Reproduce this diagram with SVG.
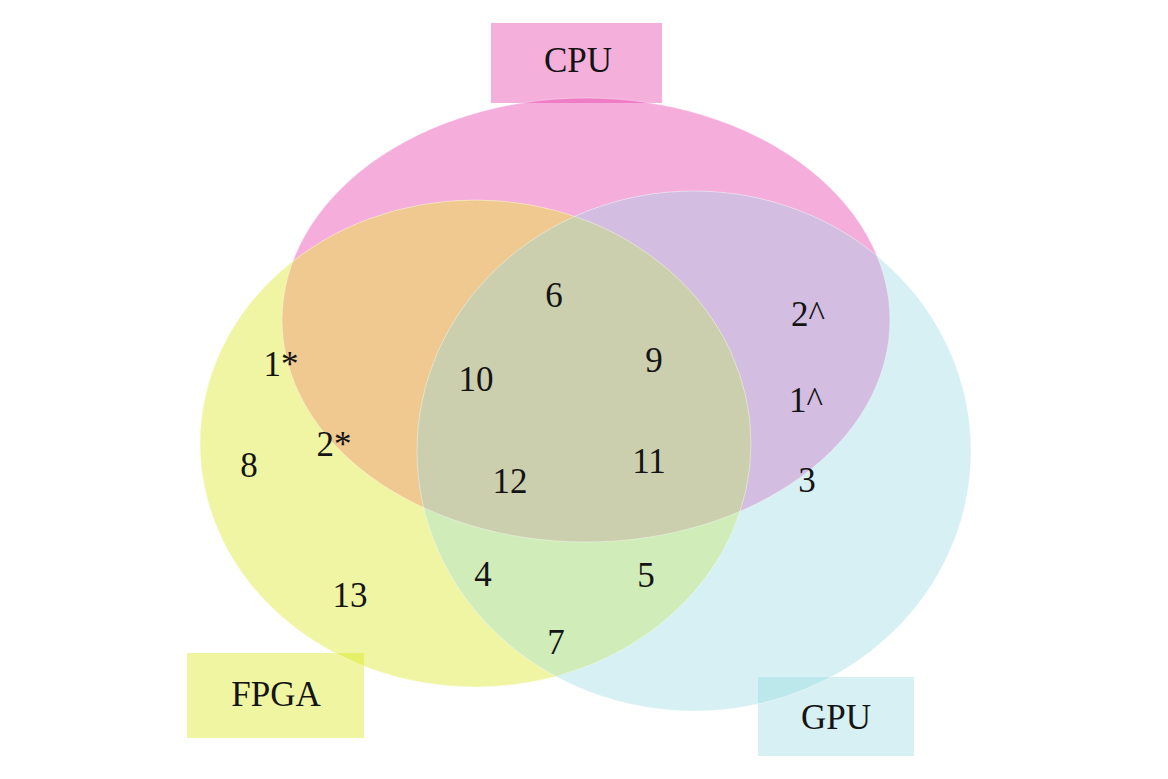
<svg xmlns="http://www.w3.org/2000/svg" width="1168" height="779" viewBox="0 0 1168 779">
<style>
text { font-family: "Liberation Serif", "Times New Roman", serif; font-size: 35px; fill: #141414; text-anchor: middle; }
.edge { fill: none; stroke: #ffffff; stroke-opacity: 0.45; stroke-width: 0.8; }
</style>
<defs>
<ellipse id="eCPU" cx="586" cy="320" rx="304" ry="222"/>
<ellipse id="eFPGA" cx="475.5" cy="443.5" rx="275.5" ry="243.5"/>
<ellipse id="eGPU" cx="694" cy="451" rx="277" ry="260"/>
<clipPath id="cCPU"><use href="#eCPU"/></clipPath>
<clipPath id="cFPGA"><use href="#eFPGA"/></clipPath>
</defs>
<rect width="1168" height="779" fill="#ffffff"/>
<g id="CPU">
<use href="#eCPU" fill="#f5aedb"/>
<rect x="491" y="23" width="171" height="80" fill="#e52ca1" fill-opacity="0.38"/>
<text x="578" y="72">CPU</text>
</g>
<g id="FPGA">
<use href="#eFPGA" fill="#eff5a2"/>
<rect x="187" y="653" width="177" height="85" fill="#d5e507" fill-opacity="0.38"/>
<text x="276" y="706">FPGA</text>
</g>
<g id="GPU">
<use href="#eGPU" fill="#d6f0f3"/>
<rect x="758" y="677" width="156" height="79" fill="#94d8e0" fill-opacity="0.38"/>
<text x="836" y="729">GPU</text>
</g>
<g id="overlaps">
<use href="#eFPGA" fill="#f0c990" clip-path="url(#cCPU)"/>
<use href="#eGPU" fill="#d3bee1" clip-path="url(#cCPU)"/>
<use href="#eGPU" fill="#cfecb9" clip-path="url(#cFPGA)"/>
<g clip-path="url(#cCPU)"><use href="#eGPU" fill="#cbcfae" clip-path="url(#cFPGA)"/></g>
<use href="#eCPU" class="edge"/>
<use href="#eFPGA" class="edge"/>
<use href="#eGPU" class="edge"/>
</g>
<g id="labels">
<text x="554" y="307">6</text>
<text x="654" y="372">9</text>
<text x="476" y="391">10</text>
<text x="510" y="493">12</text>
<text x="649" y="473">11</text>
<text x="808" y="326">2^</text>
<text x="806" y="412">1^</text>
<text x="807" y="492">3</text>
<text x="281" y="376">1*</text>
<text x="334" y="456">2*</text>
<text x="249" y="477">8</text>
<text x="350" y="607">13</text>
<text x="483" y="586">4</text>
<text x="646" y="587">5</text>
<text x="556" y="654">7</text>
</g>
</svg>
